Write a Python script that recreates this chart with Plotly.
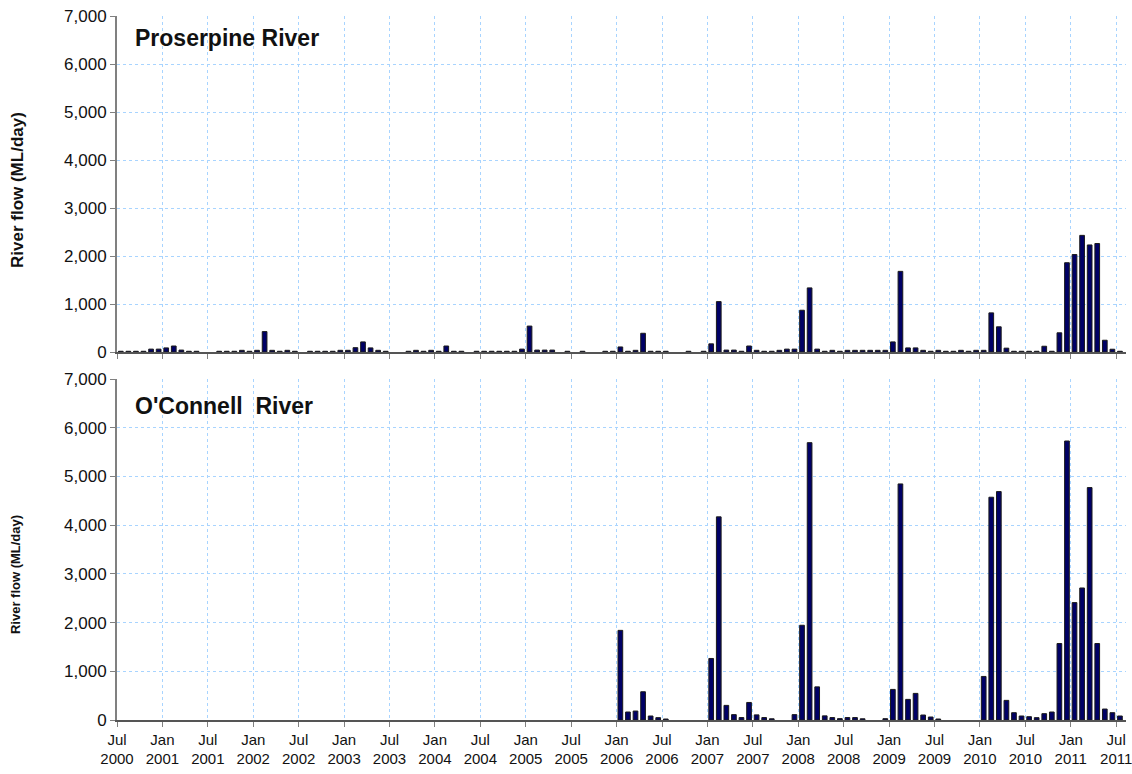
import plotly.graph_objects as go
from plotly.subplots import make_subplots

# monthly river flow (ML/day), Jul 2000 .. Jul 2011, one value per month
proserpine = [
    15, 15, 15, 15, 60, 60,                      # 2000 Jul-Dec
    85, 125, 40, 15, 15, 0, 0, 15, 15, 15, 35, 15,        # 2001
    35, 425, 35, 15, 35, 15, 0, 15, 15, 15, 15, 35,       # 2002
    35, 90, 210, 85, 35, 15, 0, 0, 15, 35, 15, 35,        # 2003
    15, 125, 15, 15, 0, 15, 15, 15, 15, 15, 15, 60,       # 2004
    540, 40, 40, 40, 0, 15, 0, 15, 0, 0, 15, 15,          # 2005
    105, 15, 35, 390, 15, 15, 15, 0, 0, 15, 0, 15,        # 2006
    170, 1050, 40, 40, 15, 125, 35, 15, 15, 35, 60, 60,   # 2007
    870, 1335, 60, 15, 35, 15, 35, 35, 35, 35, 35, 35,    # 2008
    210, 1680, 85, 85, 35, 15, 35, 15, 15, 35, 15, 35,    # 2009
    35, 815, 525, 80, 15, 15, 15, 15, 120, 15, 400, 1860, # 2010
    2030, 2430, 2230, 2260, 245, 58, 15,                  # 2011 Jan-Jul
]

oconnell = [
    0, 0, 0, 0, 0, 0,                            # 2000 Jul-Dec
    0, 0, 0, 0, 0, 0, 0, 0, 0, 0, 0, 0,          # 2001
    0, 0, 0, 0, 0, 0, 0, 0, 0, 0, 0, 0,          # 2002
    0, 0, 0, 0, 0, 0, 0, 0, 0, 0, 0, 0,          # 2003
    0, 0, 0, 0, 0, 0, 0, 0, 0, 0, 0, 0,          # 2004
    0, 0, 0, 0, 0, 0, 0, 0, 0, 0, 0, 0,          # 2005
    1840, 164, 184, 580, 82, 48, 20, 0, 0, 0, 0, 0,           # 2006
    1263, 4170, 300, 110, 50, 360, 105, 50, 25, 0, 0, 110,    # 2007
    1945, 5693, 680, 85, 50, 28, 50, 50, 25, 0, 0, 27,        # 2008
    628, 4846, 423, 546, 102, 61, 20, 0, 0, 0, 0, 0,          # 2009
    894, 4573, 4689, 403, 150, 82, 68, 48, 130, 164, 1570, 5727,  # 2010
    2410, 2710, 4771, 1570, 225, 150, 82,                     # 2011 Jan-Jul
]

tick_labels = []
for yr in range(2000, 2012):
    if yr > 2000:
        tick_labels.append(f"Jan<br>{yr}")
    tick_labels.append(f"Jul<br>{yr}")

FONT = "Liberation Sans, Arial, sans-serif"
GRID = "#a8d4ff"
BAR = "#000066"

months = list(range(len(proserpine)))
xs = [m + 0.5 for m in months]
tickvals = list(range(0, len(proserpine), 6))


def nonzero(vals):
    # zero months draw nothing in the original, not even an outline
    return [v if v else None for v in vals]


fig = make_subplots(rows=2, cols=1)

fig.add_trace(go.Bar(x=xs, y=nonzero(proserpine), width=0.62, marker_color=BAR,
                     marker_line_color="#1a1a1a", marker_line_width=1), row=1, col=1)
fig.add_trace(go.Bar(x=xs, y=nonzero(oconnell), width=0.62, marker_color=BAR,
                     marker_line_color="#1a1a1a", marker_line_width=1), row=2, col=1)

xcommon = dict(range=[0, len(proserpine) + 0.3], tickvals=tickvals, ticktext=tick_labels,
               showgrid=True, gridcolor=GRID, griddash="dot", gridwidth=1,
               ticks="outside", ticklen=5, tickcolor="#808080",
               showline=True, linecolor="#555555", linewidth=1.5, zeroline=False,
               automargin=False, ticklabeloverflow="allow",
               tickfont=dict(size=15, color="#111"))
ycommon = dict(range=[0, 7000], dtick=1000, tickformat=",",
               showgrid=True, gridcolor=GRID, griddash="dot", gridwidth=1,
               ticks="outside", ticklen=5, tickcolor="#808080",
               showline=True, linecolor="#808080", linewidth=2, zeroline=False,
               automargin=False, tickfont=dict(size=17, color="#111"))

fig.update_xaxes(**xcommon)
fig.update_xaxes(showticklabels=False, row=1, col=1)
fig.update_yaxes(**ycommon)
fig.update_layout(
    width=1132, height=774,
    margin=dict(l=117, r=6, t=16, b=54),
    showlegend=False,
    plot_bgcolor="white", paper_bgcolor="white",
    font=dict(family=FONT, color="#111"),
    xaxis=dict(domain=[0, 1]), xaxis2=dict(domain=[0, 1]),
    yaxis=dict(domain=[1 - 336 / 704, 1]),
    yaxis2=dict(domain=[0, 1 - 363 / 704]),
)

fig.add_annotation(text="<b>Proserpine River</b>", xref="paper", yref="paper",
                   x=0.016, y=0.969, xanchor="left", yanchor="middle",
                   showarrow=False, font=dict(size=23))
fig.add_annotation(text="<b>O'Connell\u00a0 River</b>", xref="paper", yref="paper",
                   x=0.016, y=0.446, xanchor="left", yanchor="middle",
                   showarrow=False, font=dict(size=23))
fig.add_annotation(text="<b>River flow (ML/day)</b>", xref="paper", yref="paper",
                   x=-0.098, y=0.753, xanchor="center", yanchor="middle", textangle=-90,
                   showarrow=False, font=dict(size=17))
fig.add_annotation(text="<b>River flow (ML/day)</b>", xref="paper", yref="paper",
                   x=-0.100, y=0.206, xanchor="center", yanchor="middle", textangle=-90,
                   showarrow=False, font=dict(size=13))

# the page's default 8px body margin would push the fixed-size figure off the window
fig.write_html("out.html", config={"displayModeBar": False},
               post_script="document.body.style.margin='0';document.body.style.overflow='hidden';")
